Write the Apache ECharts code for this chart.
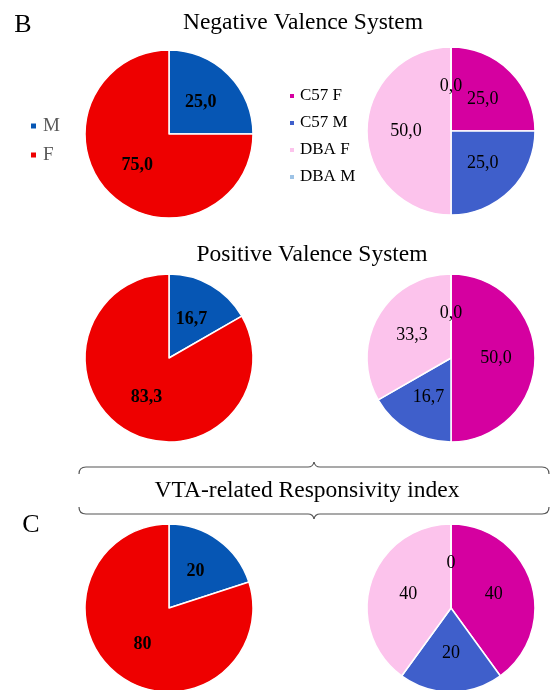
<!DOCTYPE html>
<html><head><meta charset="utf-8">
<script src="https://cdn.jsdelivr.net/npm/echarts@6/dist/echarts.min.js"></script>
<style>html,body{margin:0;padding:0;background:#fff}#c{width:554px;height:690px}</style>
</head><body><div id="c"></div>
<script>
// ---- data ----
const sexCategories = ['M', 'F'];
const strainCategories = ['C57 F', 'C57 M', 'DBA F', 'DBA M'];
const panelTitles = ['Negative Valence System', 'Positive Valence System', 'VTA-related Responsivity index'];
const panelLetters = ['B', 'C'];
const sexNegative = [25.0, 75.0];
const sexPositive = [16.7, 83.3];
const sexVTA = [20, 80];
const strainNegative = [25.0, 25.0, 50.0, 0.0];
const strainPositive = [50.0, 16.7, 33.3, 0.0];
const strainVTA = [40, 20, 40, 0];
const rowDecimals = [1, 1, 0];

// ---- styles ----
const SERIF = "'Liberation Serif', 'Times New Roman', serif";
const sexColors = ['#0656b4', '#ee0000'];
const strainColors = ['#d500a0', '#3f5fcb', '#fcc3ec', '#9dc3e6'];
const rowY = [134, 358, 608];
const leftX = 169, rightX = 451, R = 84;

function fmt(v, d) { return v.toFixed(d).replace('.', ','); }

const sexRows = [sexNegative, sexPositive, sexVTA];
const strainRows = [strainNegative, strainPositive, strainVTA];
const series = [];
sexRows.forEach((vals, i) => {
  series.push({
    type: 'pie', name: 'sex' + i, center: [leftX, rowY[i]], radius: R,
    startAngle: 90, clockwise: true, avoidLabelOverlap: false,
    itemStyle: { borderColor: '#fff', borderWidth: 1.5 },
    label: { show: true, position: 'inside', color: '#000', fontFamily: SERIF, fontWeight: 'bold', fontSize: 18,
      formatter: p => fmt(p.value, rowDecimals[i]) },
    labelLine: { show: false }, emphasis: { disabled: true },
    data: sexCategories.map((n, k) => ({ name: n, value: vals[k], itemStyle: { color: sexColors[k] } }))
  });
});
strainRows.forEach((vals, i) => {
  series.push({
    type: 'pie', name: 'strain' + i, center: [rightX, rowY[i] - (i === 0 ? 3 : 0)], radius: R,
    startAngle: 90, clockwise: true, avoidLabelOverlap: false, minShowLabelAngle: 0,
    itemStyle: { borderColor: '#fff', borderWidth: 1.5 },
    label: { show: true, position: 'inside', color: '#000', fontFamily: SERIF, fontSize: 18,
      formatter: p => fmt(p.value, rowDecimals[i]) },
    labelLine: { show: false }, emphasis: { disabled: true },
    data: strainCategories.map((n, k) => ({ name: n, value: vals[k], itemStyle: { color: strainColors[k] } }))
  });
});

const titleCenters = [[303, 23], [312, 255], [307, 491]];
const titles = panelTitles.map((t, i) => ({
  text: t, left: titleCenters[i][0], top: titleCenters[i][1], padding: 0,
  textAlign: 'center', textVerticalAlign: 'middle',
  textStyle: { fontFamily: SERIF, fontSize: 23.5, fontWeight: 'normal', color: '#000' }
}));
titles.push({ text: panelLetters[0], left: 23, top: 25, padding: 0, textAlign: 'center', textVerticalAlign: 'middle',
  textStyle: { fontFamily: SERIF, fontSize: 26, fontWeight: 'normal', color: '#000' } });
titles.push({ text: panelLetters[1], left: 31, top: 525, padding: 0, textAlign: 'center', textVerticalAlign: 'middle',
  textStyle: { fontFamily: SERIF, fontSize: 26, fontWeight: 'normal', color: '#000' } });

// curly brace made of lines + quadratic curves
function brace(y, dir) {
  // dir = +1: ends curve downward, notch up (top brace); -1: ends up, notch down
  const L = 79, Rt = 549, M = 314, e = 7 * dir, n = 5 * dir;
  const st = { stroke: '#555', lineWidth: 1.2, fill: null };
  return [
    { type: 'bezierCurve', shape: { x1: L, y1: y + e, x2: L + 7, y2: y, cpx1: L, cpy1: y }, style: st },
    { type: 'line', shape: { x1: L + 7, y1: y, x2: M - 6, y2: y }, style: st },
    { type: 'bezierCurve', shape: { x1: M - 6, y1: y, x2: M, y2: y - n, cpx1: M - 1, cpy1: y }, style: st },
    { type: 'bezierCurve', shape: { x1: M, y1: y - n, x2: M + 6, y2: y, cpx1: M + 1, cpy1: y }, style: st },
    { type: 'line', shape: { x1: M + 6, y1: y, x2: Rt - 7, y2: y }, style: st },
    { type: 'bezierCurve', shape: { x1: Rt - 7, y1: y, x2: Rt, y2: y + e, cpx1: Rt, cpy1: y }, style: st }
  ];
}

const option = {
  animation: false,
  backgroundColor: '#fff',
  title: titles,
  legend: [
    { data: sexCategories, orient: 'vertical', left: 29, top: 116, padding: 0, itemGap: 9,
      itemWidth: 7, itemHeight: 7, icon: 'rect', selectedMode: false,
      textStyle: { fontFamily: SERIF, fontSize: 19, color: '#595959', lineHeight: 20, padding: [0, 0, 0, 1] } },
    { data: strainCategories, orient: 'vertical', left: 288, top: 87, padding: 0, itemGap: 9,
      itemWidth: 6, itemHeight: 6, icon: 'rect', selectedMode: false,
      textStyle: { fontFamily: SERIF, fontSize: 17, color: '#000', lineHeight: 18 } }
  ],
  graphic: brace(467, 1).concat(brace(514, -1)),
  series: series
};
echarts.init(document.getElementById('c')).setOption(option);
</script>
</body></html>
